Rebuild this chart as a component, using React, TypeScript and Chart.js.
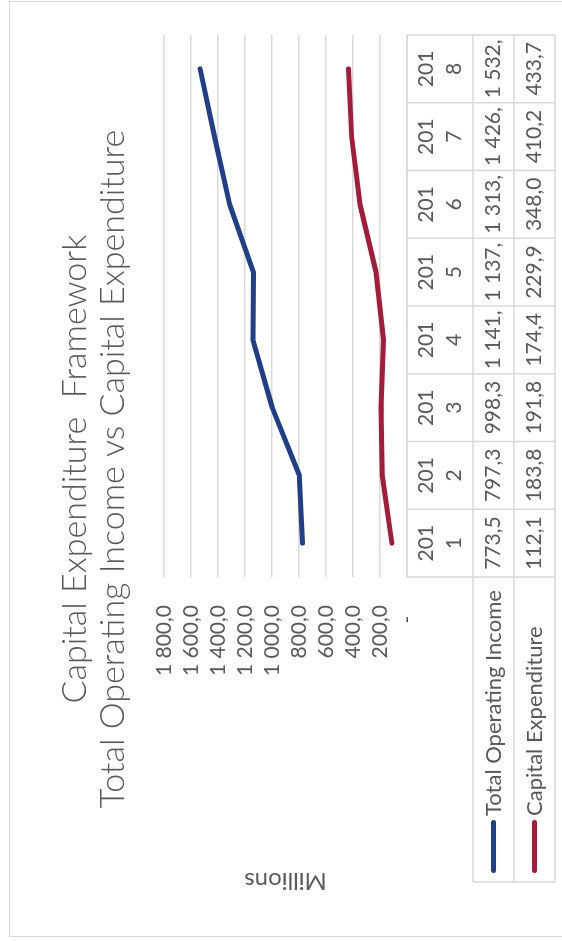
import React, { useEffect, useRef } from "react";
import { Chart, registerables } from "chart.js";

Chart.register(...registerables);

const categories = ["2011", "2012", "2013", "2014", "2015", "2016", "2017", "2018"];
const operatingIncome = [773.5, 797.3, 998.3, 1141.4, 1137.2, 1313.6, 1426.1, 1532.5];
const capitalExpenditure = [112.1, 183.8, 191.8, 174.4, 229.9, 348.0, 410.2, 433.7];
const seriesNames = ["Total Operating Income", "Capital Expenditure"];
const seriesColors = ["#213f88", "#a51b3a"];
const titleLines = ["Capital Expenditure  Framework", "Total Operating Income vs Capital Expenditure"];
const axisTitle = "Millions";
const yMin = 0;
const yMax = 1800;
const yStep = 200;

const W = 936;
const H = 560;
const FONT = "Lato, 'Open Sans', sans-serif";
const TEXT = "#595959";
const GRID = "#d9d9d9";

function fmt(v: number): string {
  const neg = v < 0;
  const a = Math.abs(v);
  const fixed = a.toFixed(1);
  const [ip, dp] = fixed.split(".");
  let s = "";
  for (let i = 0; i < ip.length; i++) {
    const fromEnd = ip.length - i;
    s += ip[i];
    if (fromEnd > 1 && (fromEnd - 1) % 3 === 0) s += " ";
  }
  return (neg ? "-" : "") + s + "," + dp;
}

function wrapChars(ctx: CanvasRenderingContext2D, text: string, maxW: number): string[] {
  const lines: string[] = [];
  let cur = "";
  for (const ch of text) {
    const test = cur + ch;
    if (cur && ctx.measureText(test).width > maxW) {
      lines.push(cur);
      cur = ch;
    } else cur = test;
  }
  if (cur) lines.push(cur);
  return lines;
}

const tablePlugin = {
  id: "tablePlugin",
  afterDraw(chart: any) {
    const ctx: CanvasRenderingContext2D = chart.ctx;
    const ca = chart.chartArea;
    const n = categories.length;
    const colW = (ca.right - ca.left) / n;
    const top = ca.bottom;
    const hdrH = 66;
    const rowH = 41;
    const legendLeft = 55;
    const bottom = top + hdrH + rowH * 2;
    ctx.save();

    // outer border
    ctx.strokeStyle = GRID;
    ctx.lineWidth = 1;
    ctx.strokeRect(0.5, 0.5, W - 1, H - 1);

    // table lines
    ctx.lineWidth = 1.5;
    ctx.strokeStyle = GRID;
    ctx.beginPath();
    ctx.moveTo(ca.left, top);
    ctx.lineTo(ca.right, top);
    for (let r = 1; r <= 3; r++) {
      const y = top + hdrH + rowH * (r - 1);
      ctx.moveTo(legendLeft, y);
      ctx.lineTo(ca.right, y);
    }
    for (let i = 0; i <= n; i++) {
      const x = ca.left + colW * i;
      ctx.moveTo(x, top);
      ctx.lineTo(x, bottom);
    }
    ctx.moveTo(legendLeft, top + hdrH);
    ctx.lineTo(legendLeft, bottom);
    ctx.stroke();

    // header
    ctx.fillStyle = TEXT;
    ctx.font = `21px ${FONT}`;
    ctx.textAlign = "center";
    ctx.textBaseline = "middle";
    categories.forEach((c, i) => {
      const cx = ca.left + colW * (i + 0.5);
      const lines = wrapChars(ctx, c, 46);
      if (lines.length === 1) ctx.fillText(lines[0], cx, top + hdrH / 2);
      else {
        ctx.fillText(lines[0], cx, top + 19);
        ctx.fillText(lines[1], cx, top + 47);
      }
    });

    // rows
    const allSeries = [operatingIncome, capitalExpenditure];
    allSeries.forEach((vals, r) => {
      const cy = top + hdrH + rowH * r + rowH / 2;
      ctx.font = `21px ${FONT}`;
      ctx.textAlign = "center";
      vals.forEach((v, i) => {
        const cx = ca.left + colW * (i + 0.5);
        ctx.save();
        ctx.beginPath();
        ctx.rect(ca.left + colW * i, cy - rowH / 2, colW, rowH);
        ctx.clip();
        const lines = wrapChars(ctx, fmt(v), colW - 6);
        ctx.fillText(lines[0], cx, cy);
        ctx.restore();
      });
      // legend key
      ctx.strokeStyle = seriesColors[r];
      ctx.lineWidth = 5;
      ctx.lineCap = "round";
      ctx.beginPath();
      ctx.moveTo(66.5, cy);
      ctx.lineTo(114.5, cy);
      ctx.stroke();
      ctx.textAlign = "left";
      ctx.fillStyle = TEXT;
      ctx.font = `22px ${FONT}`;
      ctx.fillText(seriesNames[r], 121, cy);
    });

    // axis title
    ctx.save();
    ctx.translate(56, (ca.top + ca.bottom) / 2);
    ctx.rotate(-Math.PI / 2);
    ctx.font = `24px ${FONT}`;
    ctx.textAlign = "center";
    ctx.textBaseline = "middle";
    ctx.fillStyle = TEXT;
    ctx.fillText(axisTitle, 0, 0);
    ctx.restore();

    // chart title
    ctx.textAlign = "center";
    ctx.textBaseline = "middle";
    ctx.fillStyle = TEXT;
    ctx.font = `300 34px ${FONT}`;
    ctx.fillText(titleLines[0], W / 2, 66);
    ctx.fillText(titleLines[1], W / 2, 104);

    ctx.restore();
  },
};

export default function App() {
  const ref = useRef<HTMLCanvasElement>(null);
  useEffect(() => {
    if (!ref.current) return;
    const chart = new Chart(ref.current, {
      type: "line",
      data: {
        labels: categories,
        datasets: [
          {
            label: seriesNames[0],
            data: operatingIncome,
            borderColor: seriesColors[0],
            backgroundColor: seriesColors[0],
            borderWidth: 5,
            pointRadius: 0,
            tension: 0,
            fill: false,
            borderCapStyle: "round",
            borderJoinStyle: "round",
          },
          {
            label: seriesNames[1],
            data: capitalExpenditure,
            borderColor: seriesColors[1],
            backgroundColor: seriesColors[1],
            borderWidth: 5,
            pointRadius: 0,
            tension: 0,
            fill: false,
            borderCapStyle: "round",
            borderJoinStyle: "round",
          },
        ],
      },
      options: {
        responsive: false,
        animation: false,
        events: [],
        layout: { padding: { left: 0, right: 34, top: 155, bottom: 162 } },
        plugins: {
          legend: { display: false },
          title: { display: false },
          tooltip: { enabled: false },
        },
        scales: {
          x: { type: "category", display: false, offset: true },
          y: {
            min: yMin,
            max: yMax,
            afterFit: (s: any) => {
              s.width = 360;
            },
            border: { display: false },
            grid: { color: GRID, lineWidth: 1.5, drawTicks: false },
            ticks: {
              stepSize: yStep,
              autoSkip: false,
              padding: 28,
              color: TEXT,
              font: { family: FONT, size: 21 },
              callback: (v: any) => (Number(v) === 0 ? "-  " : fmt(Number(v))),
            },
          },
        },
      },
      plugins: [tablePlugin],
    });
    return () => chart.destroy();
  }, []);

  return (
    <div
      style={{
        position: "fixed",
        left: 0,
        top: 0,
        width: 562,
        height: 941,
        overflow: "hidden",
        background: "#fff",
      }}
    >
      <div
        style={{
          position: "absolute",
          left: 9,
          top: 937,
          width: W,
          height: H,
          transformOrigin: "0 0",
          transform: "rotate(-90deg)",
        }}
      >
        <canvas ref={ref} width={W} height={H} style={{ width: W, height: H, display: "block" }} />
      </div>
    </div>
  );
}
